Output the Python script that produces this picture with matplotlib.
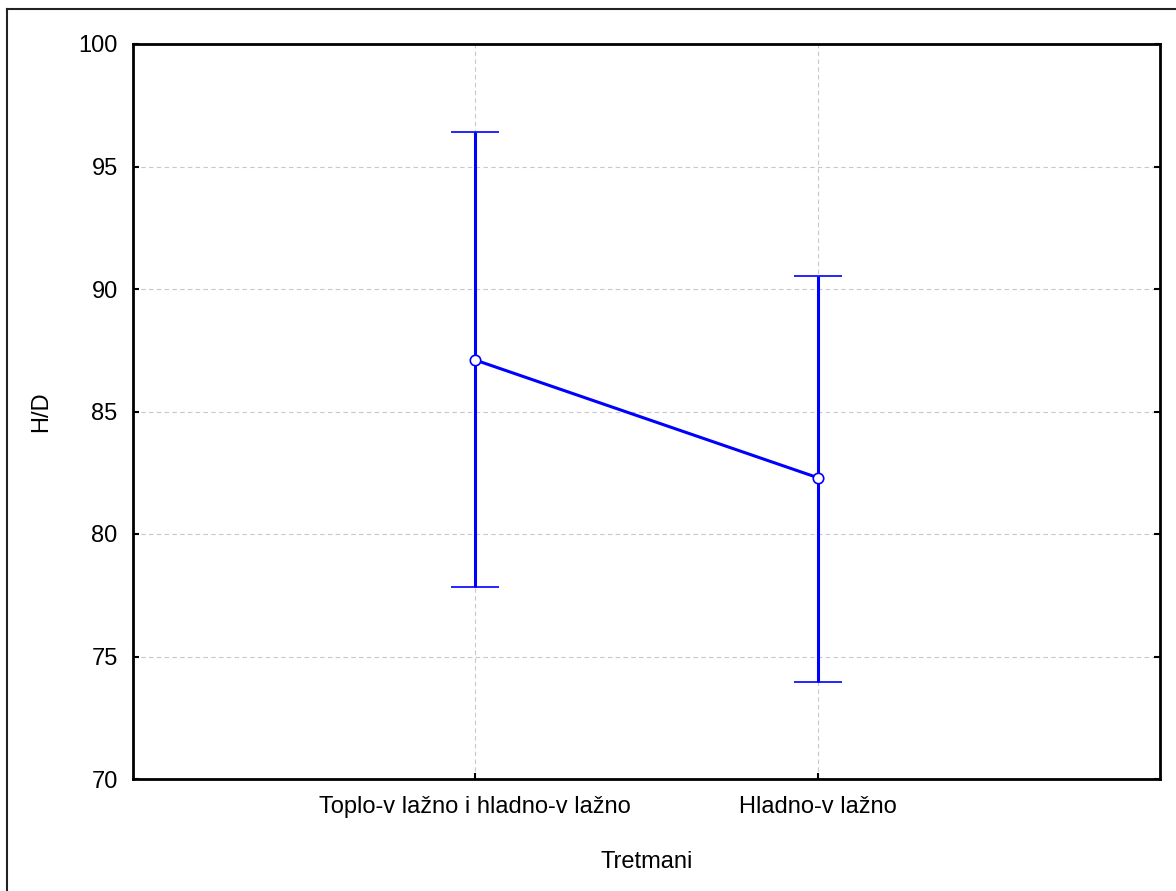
import matplotlib
matplotlib.use("Agg")
import matplotlib.pyplot as plt
from matplotlib.lines import Line2D
from matplotlib import font_manager

categories = ["Toplo-v lažno i hladno-v lažno", "Hladno-v lažno"]
means = [87.1, 82.3]
upper = [96.4, 90.55]
lower = [77.85, 73.95]
yticks = [70, 75, 80, 85, 90, 95, 100]

names = {f.name for f in font_manager.fontManager.ttflist}
fam = ['Liberation Sans Narrow', 'Liberation Sans', 'DejaVu Sans']
fam = [f for f in fam if f in names] or ['DejaVu Sans']
plt.rcParams['font.family'] = fam

fig = plt.figure(figsize=(11.76, 8.91), dpi=100)
ax = fig.add_axes([133/1176, 1-779/891, (1160-133)/1176, (779-44)/891])

x = list(range(len(categories)))
yerr = [[m - l for m, l in zip(means, lower)], [u - m for u, m in zip(upper, means)]]
ax.errorbar(x, means, yerr=yerr, color='#0000ff', lw=2.2, capsize=17, capthick=2.6,
            marker='o', markersize=7.5, markerfacecolor='white', markeredgecolor='#0000ff',
            markeredgewidth=1.2, zorder=3)

ax.set_xlim(-1, 2)
ax.set_ylim(70, 100)
ax.set_yticks(yticks)
ax.set_xticks(x)
ax.set_xticklabels(categories, fontsize=16)
ax.grid(True, color='#c8c8c8', ls=(0, (4, 3)), lw=0.8)
ax.set_axisbelow(True)
for s in ax.spines.values():
    s.set_linewidth(2)
ax.tick_params(direction='in', length=4, width=1.5, top=False, right=True,
               labelsize=17, pad=11)
ax.tick_params(axis='x', pad=12)
ax.set_xlabel("Tretmani", fontsize=17, labelpad=24)
ax.set_ylabel("H/D", fontsize=17, labelpad=19)

fig.add_artist(Line2D([7/1176, 7/1176], [0, 1-9/891], color='#222222', lw=1.5,
                      transform=fig.transFigure))
fig.add_artist(Line2D([7/1176, 1], [1-9/891, 1-9/891], color='#222222', lw=1.5,
                      transform=fig.transFigure))

fig.savefig("out.png", dpi=100)
